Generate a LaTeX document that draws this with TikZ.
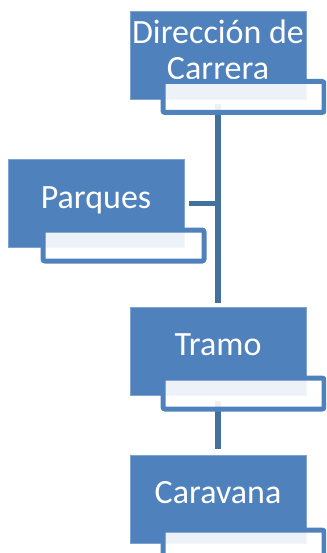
\documentclass[tikz,border=0pt]{standalone}
\usepackage{fontspec}
\setmainfont{Carlito}
\definecolor{acc}{HTML}{4F81BD}
\definecolor{accedge}{HTML}{7FA3D0}
\definecolor{connc}{HTML}{41719C}
\begin{document}
\begin{tikzpicture}[x=1pt,y=-1pt,
  mainbox/.style={rectangle, fill=acc, draw=accedge, line width=0.8pt, minimum width=176pt, minimum height=88pt, inner sep=0pt},
  subbox/.style={rectangle, fill=white, fill opacity=0.9, draw=acc, draw opacity=1, line width=5pt, rounded corners=2pt, minimum width=161pt, minimum height=31pt, inner sep=0pt},
  lbl/.style={text=white, font=\fontsize{34}{36}\selectfont, align=center, inner sep=0pt, anchor=base},
  connline/.style={draw=connc, line width=5.5pt}]
\useasboundingbox (0,0) rectangle (326,553);
\clip (0,0) rectangle (326,553);
% connectors (drawn first, boxes over them)
\coordinate (c1) at (218,104);
\coordinate (c2) at (218,303);
\coordinate (c3) at (189,203.5);
\coordinate (c4) at (218,203.5);
\coordinate (c5) at (218,401);
\coordinate (c6) at (218,449);
\draw[connline] (c1) -- (c2);
\draw[connline] (c3) -- (c4);
\draw[connline] (c5) -- (c6);
% main boxes
\node[mainbox] (dir) at (218,55.5) {};
\node[mainbox] (par) at (96,203.5) {};
\node[mainbox] (tra) at (218,351.5) {};
\node[mainbox] (car) at (218,499) {};
% text
\node[lbl, anchor=center] (dirt) at (218,50) {Dirección de\\Carrera};
\node[lbl] (part) at (96,208) {Parques};
\node[lbl] (trat) at (218,355) {Tramo};
\node[lbl] (cart) at (218,503) {Caravana};
% sub boxes
\node[subbox] (dirs) at (243.5,97) {};
\node[subbox] (pars) at (123.5,245.5) {};
\node[subbox] (tras) at (243.5,393.5) {};
\node[subbox] (cars) at (243.5,545.5) {};
\end{tikzpicture}
\end{document}
